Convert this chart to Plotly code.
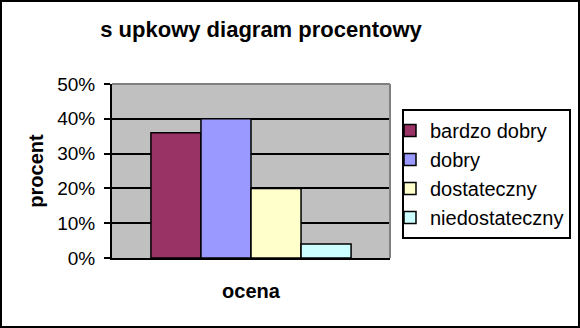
import plotly.graph_objects as go

categories = [""]
series_names = ["bardzo dobry", "dobry", "dostateczny", "niedostateczny"]
series_values = [0.36, 0.40, 0.20, 0.04]
colors = ["#993366", "#9999FF", "#FFFFCC", "#CCFFFF"]
tick_vals = [0, 0.1, 0.2, 0.3, 0.4, 0.5]
tick_text = ["0%", "10%", "20%", "30%", "40%", "50%"]

W, H = 580, 328
L, R, T, B = 112, 190, 84, 70
pw, ph = W - L - R, H - T - B

fig = go.Figure()
for name, val, c in zip(series_names, series_values, colors):
    fig.add_trace(go.Bar(
        x=categories, y=[val], name=name, legendgroup=name,
        marker=dict(color=c, line=dict(color="black", width=1.5)),
    ))

font = "Liberation Sans, Arial, sans-serif"
fig.update_layout(
    width=W, height=H,
    margin=dict(l=L, r=R, t=T, b=B, autoexpand=False),
    paper_bgcolor="white", plot_bgcolor="#C0C0C0",
    barmode="group", bargap=0.28, bargroupgap=0,
    font=dict(family=font, size=19, color="black"),
    title=dict(text="<b>s upkowy diagram procentowy</b>", x=261 / W, xanchor="center",
               y=1 - 29 / H, yanchor="middle", font=dict(size=22)),
    showlegend=True,
    legend=dict(x=(402 - L) / pw, y=(H - B - 109) / ph, xanchor="left", yanchor="top",
                bordercolor="black", borderwidth=2, bgcolor="white",
                traceorder="grouped", tracegroupgap=0, font=dict(size=20),
                itemwidth=30, indentation=-14),
    xaxis=dict(showticklabels=False, ticks="", showline=True, linecolor="black",
               linewidth=2, showgrid=False, range=[-0.5, 0.5],
               title=dict(text="<b>ocena</b>", standoff=25, font=dict(size=20))),
    yaxis=dict(range=[0, 0.5], tickvals=tick_vals, ticktext=tick_text,
               showline=True, linecolor="black", linewidth=2, ticks="outside",
               ticklen=6, tickcolor="black", tickwidth=2, ticklabelstandoff=5,
               showgrid=True, gridcolor="black", gridwidth=1.5, zeroline=False,
               title=dict(text="<b>procent</b>", standoff=8, font=dict(size=20))),
    shapes=[
        dict(type="line", xref="paper", yref="paper", x0=0, x1=1, y0=1, y1=1,
             line=dict(color="#808080", width=2)),
        dict(type="line", xref="paper", yref="paper", x0=1, x1=1, y0=0, y1=1,
             line=dict(color="#808080", width=2)),
        dict(type="rect", xref="paper", yref="paper",
             x0=-L / pw + 1 / pw, x1=1 + (R - 1) / pw,
             y0=-B / ph + 1 / ph, y1=1 + (T - 1) / ph,
             line=dict(color="black", width=2)),
    ],
)
fig.write_html("out.html")
